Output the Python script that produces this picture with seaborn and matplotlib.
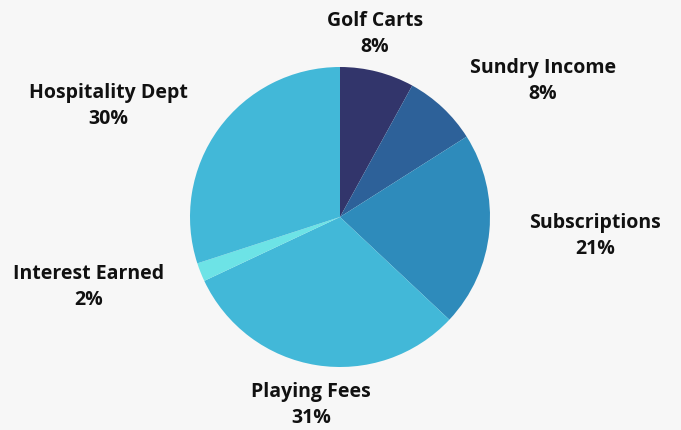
import matplotlib
matplotlib.use('Agg')
import matplotlib.pyplot as plt
import seaborn as sns

# Gelir kalemleri ve payları (%)
categories = ['Golf Carts', 'Sundry Income', 'Subscriptions', 'Playing Fees', 'Interest Earned', 'Hospitality Dept']
shares = [8, 8, 21, 31, 2, 30]
colors = ['#32356b', '#2d6199', '#2e8bbb', '#42b8d8', '#6de3e6', '#42b8d8']

sns.set_theme(style='white')
plt.rcParams['font.family'] = ['Open Sans', 'DejaVu Sans']

W, H = 681, 430
fig = plt.figure(figsize=(W / 100, H / 100), dpi=100, facecolor='#f7f7f7')
ax = fig.add_axes([0, 0, 1, 1])
ax.set_facecolor('#f7f7f7')

# pasta, piksel koordinatlarinda
ax.pie(shares, colors=colors, startangle=90, counterclock=False,
       center=(340, H - 217), radius=150, wedgeprops={'linewidth': 0})
ax.set_xlim(0, W)
ax.set_ylim(0, H)
ax.set_aspect('equal')
ax.axis('off')

# etiket konumlari (piksel, ust-sol referans)
label_pos = [(375, 34), (543, 81), (595, 236), (311, 405), (89, 287), (108, 106)]
for name, val, (x, y) in zip(categories, shares, label_pos):
    ax.text(x, H - y, f'{name}\n{val}%', ha='center', va='center', fontsize=14,
            fontweight='bold', color='#111111', linespacing=1.4)

fig.savefig('out.png', dpi=100, facecolor=fig.get_facecolor())
